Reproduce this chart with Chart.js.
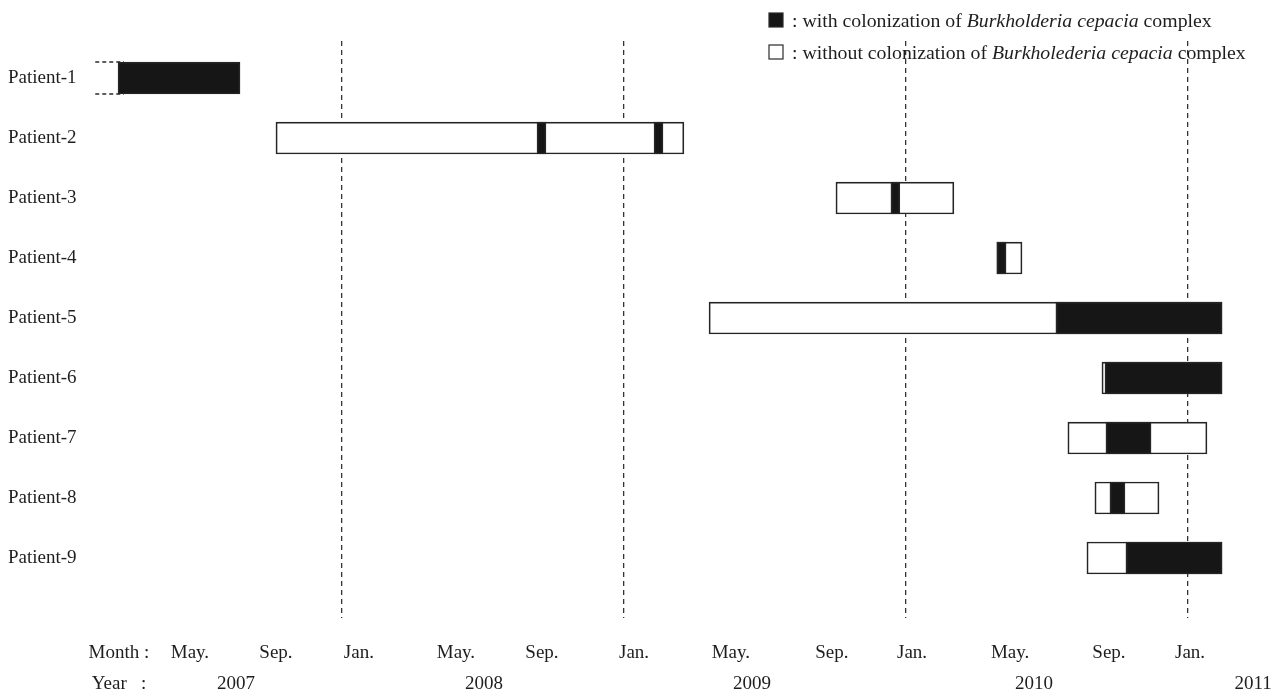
<!DOCTYPE html>
<html>
<head>
<meta charset="utf-8">
<script src="https://cdn.jsdelivr.net/npm/chart.js@4"></script>
<style>
  body { margin: 0; background: #fff; }
  #wrap { width: 1277px; height: 689px; position: relative; }
</style>
</head>
<body>
<div id="wrap"><canvas id="timeline"></canvas></div>
<script>
// time axis = months since Jan 2007
const patients = ['Patient-1', 'Patient-2', 'Patient-3', 'Patient-4', 'Patient-5',
                  'Patient-6', 'Patient-7', 'Patient-8', 'Patient-9'];

// observation period (without colonization, white)
const obsStart = [null, 9.19, 33.02, 39.87, 27.62, 44.34, 42.89, 44.04, 43.70];
const obsEnd   = [null, 26.55, 38.04, 40.94, 49.45, 49.45, 48.81, 46.77, 49.45];

// colonization periods (black)
const colStart1 = [2.47, 20.30, 35.36, 39.87, 42.38, 44.47, 44.51, 44.68, 45.36];
const colEnd1   = [7.66, 20.68, 35.74, 40.26, 49.45, 49.45, 46.43, 45.32, 49.45];
const colStart2 = [null, 25.28, null, null, null, null, null, null, null];
const colEnd2   = [null, 25.66, null, null, null, null, null, null, null];

// unknown start (dashed) for Patient-1
const leadStart = [1.50, null, null, null, null, null, null, null, null];

const janTicks = [12, 24, 36, 48];
const monthTickPos = [2.51, 5.53, 9.19, 12.72, 16.85, 20.51, 24.43, 28.55, 32.85, 36.26, 40.43, 44.64, 48.09];
const monthLabels = ['Month :', 'May.', 'Sep.', 'Jan.', 'May.', 'Sep.', 'Jan.', 'May.', 'Sep.', 'Jan.', 'May.', 'Sep.', 'Jan.'];
const yearTickPos = [2.51, 7.49, 18.04, 29.45, 41.45, 50.77];
const yearLabels = ['Year   :', '2007', '2008', '2009', '2010', '2011'];

const X_MIN = 1.277;
const X_MAX = 51.79;
const FONT = "'Liberation Serif', 'DejaVu Serif', serif";
const INK = '#1e1e1e';
const BLACK = '#161616';

// skip empty entries, keep patient index as y
function pairs(starts, ends) {
    const out = [];
    starts.forEach((s, i) => { if (s !== null) out.push({ x: [s, ends[i]], y: i }); });
    return out;
}

// horizontal axes: fixed height, no extra side padding from labels
function fixAxis(h) {
    return s => { s.height = h; s.paddingLeft = 0; s.paddingRight = 0; };
}

const barStyle = {
    borderColor: '#252525',
    borderWidth: 1.7,
    borderSkipped: false,
    barThickness: 32,
    grouped: false
};

// legend drawn with mixed italic text
const legendPlugin = {
    id: 'mixedLegend',
    afterDraw(chart) {
        const c = chart.ctx;
        const rows = [
            { fill: BLACK, parts: [': with colonization of ', 'Burkholderia cepacia', ' complex'] },
            { fill: '#fff', parts: [': without colonization of ', 'Burkholederia cepacia', ' complex'] }
        ];
        c.save();
        c.textBaseline = 'middle';
        rows.forEach((r, i) => {
            const cy = 20 + i * 32;
            c.fillStyle = r.fill;
            c.fillRect(769, cy - 7, 14, 14);
            c.strokeStyle = '#2a2a2a';
            c.lineWidth = 1.2;
            c.strokeRect(769, cy - 7, 14, 14);
            let x = 792;
            r.parts.forEach((p, k) => {
                c.font = (k === 1 ? 'italic ' : '') + '19.8px ' + FONT;
                c.fillStyle = INK;
                c.fillText(p, x, cy + 2);
                x += c.measureText(p).width;
            });
        });
        c.restore();
    }
};

// dashed lead-in before the first bar (unknown start)
const leadPlugin = {
    id: 'leadIn',
    afterDatasetsDraw(chart) {
        const meta = chart.getDatasetMeta(1);
        const xs = chart.scales.x;
        const c = chart.ctx;
        c.save();
        c.strokeStyle = '#2a2a2a';
        c.lineWidth = 1.3;
        c.setLineDash([4, 3]);
        leadStart.forEach((s, i) => {
            if (s === null) return;
            const el = meta.data.find(e => e.$context && e.$context.raw && e.$context.raw.y === i) || meta.data[i];
            const top = el.y - el.height / 2;
            const bot = el.y + el.height / 2;
            const x0 = xs.getPixelForValue(s);
            const x1 = xs.getPixelForValue(colStart1[i]) + 6;
            c.beginPath();
            c.moveTo(x0, top); c.lineTo(x1, top);
            c.moveTo(x0, bot); c.lineTo(x1, bot);
            c.stroke();
        });
        c.restore();
    }
};

new Chart(document.getElementById('timeline'), {
    type: 'bar',
    data: {
        datasets: [
            Object.assign({ label: 'with colonization', data: pairs(colStart2, colEnd2), backgroundColor: BLACK, order: 1 }, barStyle),
            Object.assign({ label: 'with colonization', data: pairs(colStart1, colEnd1), backgroundColor: BLACK, order: 1 }, barStyle),
            Object.assign({ label: 'without colonization', data: pairs(obsStart, obsEnd), backgroundColor: '#ffffff', order: 2 }, barStyle)
        ]
    },
    options: {
        indexAxis: 'y',
        responsive: true,
        maintainAspectRatio: false,
        animation: false,
        layout: { padding: { top: 41, left: 8, right: 0, bottom: 0 } },
        plugins: {
            legend: { display: false },
            tooltip: { enabled: false }
        },
        scales: {
            y: {
                type: 'linear',
                position: 'left',
                reverse: true,
                offset: false,
                min: -0.617,
                max: 9.0,
                afterBuildTicks: s => { s.ticks = patients.map((_, i) => ({ value: i })); },
                afterFit: s => { s.width = 82; },
                grid: { display: false, drawTicks: false, offset: false },
                border: { display: false },
                ticks: {
                    callback: (v, i) => patients[i],
                    crossAlign: 'far',
                    padding: 0,
                    color: INK,
                    font: { family: FONT, size: 19 }
                }
            },
            x: {
                type: 'linear',
                position: 'bottom',
                weight: 0,
                min: X_MIN,
                max: X_MAX,
                afterBuildTicks: s => { s.ticks = janTicks.map(v => ({ value: v })); },
                afterFit: fixAxis(0),
                grid: { color: '#333', lineWidth: 1.3, drawTicks: false },
                border: { display: false, dash: [5, 4] },
                ticks: { display: false }
            },
            xMonth: {
                type: 'linear',
                axis: 'x',
                position: 'bottom',
                weight: 1,
                min: X_MIN,
                max: X_MAX,
                afterBuildTicks: s => { s.ticks = monthTickPos.map(v => ({ value: v })); },
                afterFit: fixAxis(45),
                grid: { display: false, drawTicks: false },
                border: { display: false },
                ticks: {
                    callback: (v, i) => monthLabels[i],
                    autoSkip: false,
                    maxRotation: 0,
                    padding: 24,
                    color: INK,
                    font: { family: FONT, size: 19 }
                }
            },
            xYear: {
                type: 'linear',
                axis: 'x',
                position: 'bottom',
                weight: 2,
                min: X_MIN,
                max: X_MAX,
                afterBuildTicks: s => { s.ticks = yearTickPos.map(v => ({ value: v })); },
                afterFit: fixAxis(26),
                grid: { display: false, drawTicks: false },
                border: { display: false },
                ticks: {
                    callback: (v, i) => yearLabels[i],
                    autoSkip: false,
                    maxRotation: 0,
                    padding: 10,
                    color: INK,
                    font: { family: FONT, size: 19 }
                }
            }
        }
    },
    plugins: [legendPlugin, leadPlugin]
});
</script>
</body>
</html>
